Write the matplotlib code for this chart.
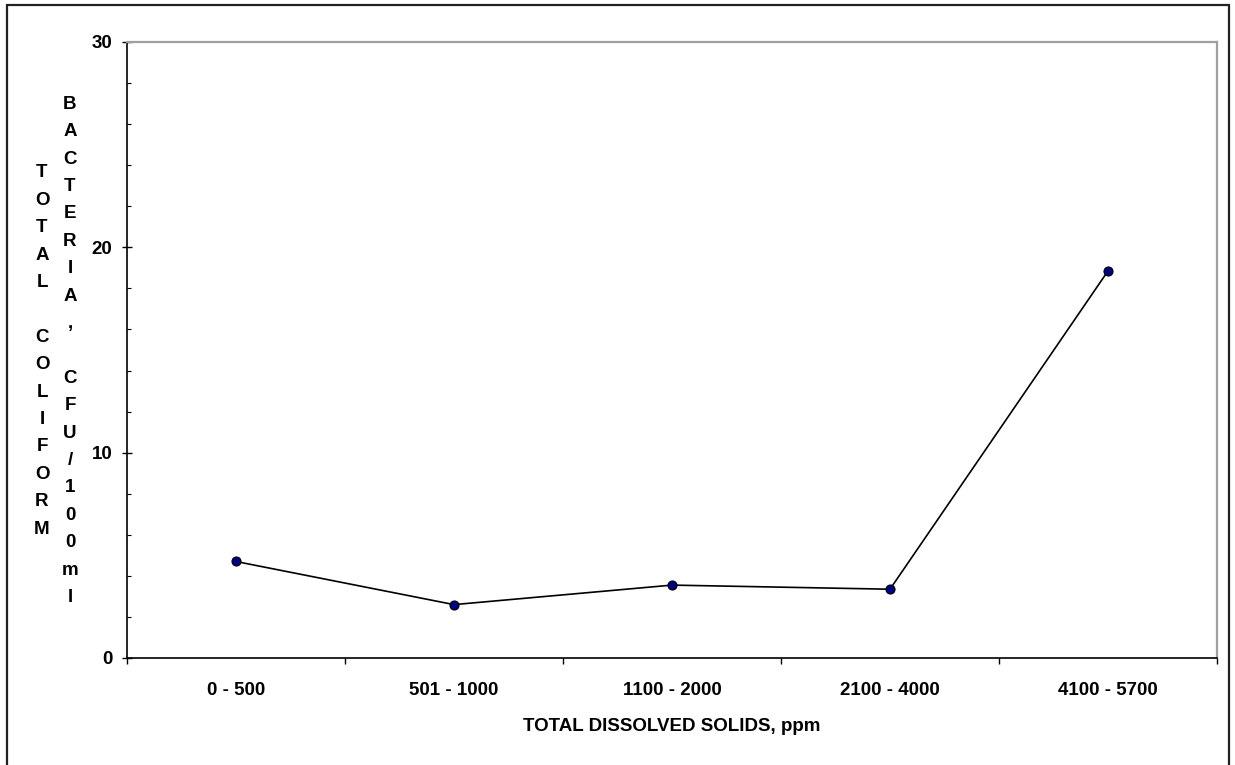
import matplotlib
matplotlib.use("Agg")
import matplotlib.pyplot as plt
from matplotlib.patches import Rectangle
from matplotlib.ticker import MultipleLocator, FixedLocator, NullFormatter

plt.rcParams['font.family'] = ['Liberation Sans', 'DejaVu Sans']
plt.rcParams['font.weight'] = 'bold'

## data
categories = ["0 - 500", "501 - 1000", "1100 - 2000", "2100 - 4000", "4100 - 5700"]
coliform = [4.7, 2.6, 3.55, 3.35, 18.85]
ylabel_left = "TOTAL COLIFORM"
ylabel_right = "BACTERIA, CFU/100ml"
xlabel = "TOTAL DISSOLVED SOLIDS, ppm"

fig = plt.figure(figsize=(12.35, 7.65), dpi=100)
ax = fig.add_axes([127/1235, 1 - 658/765, (1217 - 127)/1235, (658 - 42)/765])

x = list(range(len(categories)))
ax.plot(x, coliform, color="black", lw=1.2, marker="o", markersize=6.5,
        markerfacecolor="#000080", markeredgecolor="black", markeredgewidth=0.8,
        zorder=3)

ax.set_xlim(-0.5, len(categories) - 0.5)
ax.set_ylim(0, 30)

# y ticks
ax.yaxis.set_major_locator(MultipleLocator(10))
ax.yaxis.set_minor_locator(MultipleLocator(2))
ax.tick_params(axis="y", which="major", direction="inout", length=7, width=1,
               labelsize=13.5, pad=7)
ax.tick_params(axis="y", which="minor", direction="in", length=3, width=0.8)

# x ticks: boundaries as major ticks, category names on minor ticks
ax.xaxis.set_major_locator(FixedLocator([i - 0.5 for i in range(len(categories) + 1)]))
ax.xaxis.set_major_formatter(NullFormatter())
ax.xaxis.set_minor_locator(FixedLocator(x))
ax.set_xticklabels(categories, minor=True)
ax.tick_params(axis="x", which="major", direction="out", length=4, width=1)
ax.tick_params(axis="x", which="minor", length=0, labelsize=13.5, pad=17)

ax.set_xlabel(xlabel, fontsize=13.5, fontweight="bold", labelpad=14)

for s in ["left", "bottom"]:
    ax.spines[s].set_color("black")
    ax.spines[s].set_linewidth(1.2)
for s in ["top", "right"]:
    ax.spines[s].set_color("#a0a0a0")
    ax.spines[s].set_linewidth(1.6)

# stacked vertical y label, two columns
ymid = 1 - 351/765
for xpos, txt in [(42, ylabel_left), (70, ylabel_right)]:
    fig.text(xpos/1235, ymid, "\n".join(txt),
             ha="center", va="center", fontsize=13.5, fontweight="bold",
             linespacing=1.8)

# outer chart border
fig.patches.append(Rectangle((7/1235, -0.05), (1229 - 7)/1235, 1.05 - 5/765,
                             transform=fig.transFigure, fill=False,
                             edgecolor="#222222", linewidth=1.6))

fig.savefig("out.png", dpi=100)
